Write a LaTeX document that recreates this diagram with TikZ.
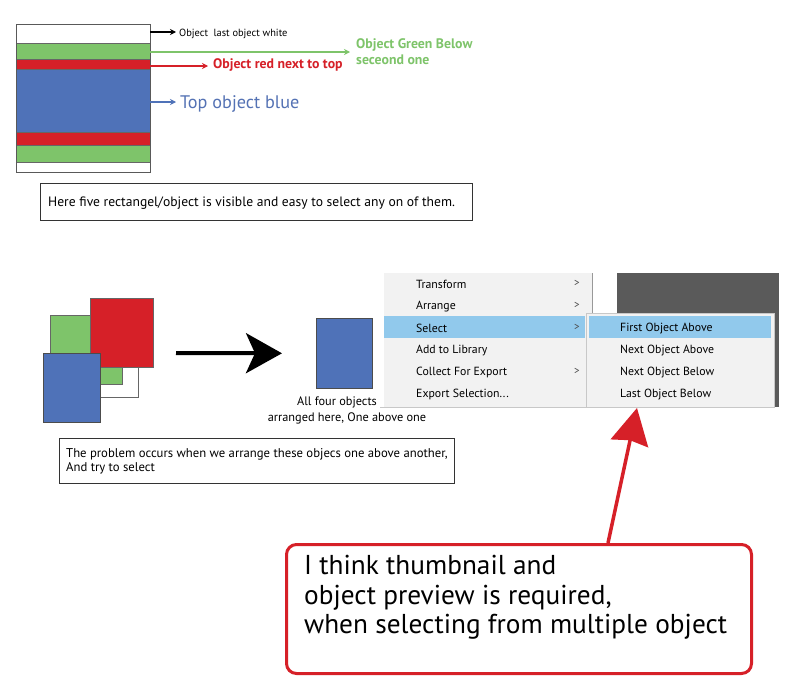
\documentclass[tikz,border=0pt]{standalone}
\usepackage{fontspec}
\setmainfont{PT Sans}
\usetikzlibrary{arrows.meta}
\definecolor{objgreen}{RGB}{126,196,106}
\definecolor{objred}{RGB}{214,32,40}
\definecolor{objblue}{RGB}{79,114,184}
\definecolor{txtblue}{RGB}{84,114,180}
\definecolor{menubg}{RGB}{242,242,242}
\definecolor{menuhl}{RGB}{145,201,236}
\definecolor{menuline}{RGB}{200,200,200}
\definecolor{darkpanel}{RGB}{90,90,90}
\newcommand{\fs}[1]{\fontsize{#1}{#1}\selectfont}
\tikzset{
  lbl/.style={anchor=west, inner sep=0pt, yshift=-1.5pt},
  menuitem/.style={anchor=west, inner sep=0pt, yshift=-1.5pt, font=\fs{11.8}},
  chev/.style={anchor=center, inner sep=0pt, font=\fs{11}, text=black!70},
  smallarrow/.style={-{Stealth[length=6pt,width=6pt]}, line width=1.3pt},
  textbox/.style={draw=black!80, line width=0.8pt, fill=white}
}
\begin{document}
\begin{tikzpicture}[x=1pt,y=-1pt]
\useasboundingbox (0,0) rectangle (789,688);
\fill[white] (0,0) rectangle (789,688);

% ---------- top stack ----------
\fill[white]    (16,24)  rectangle (150,43);
\fill[objgreen] (16,43)  rectangle (150,59);
\fill[objred]   (16,59)  rectangle (150,69);
\fill[objblue]  (16,69)  rectangle (150,132);
\fill[objred]   (16,132) rectangle (150,145);
\fill[objgreen] (16,145) rectangle (150,162);
\fill[white]    (16,162) rectangle (150,172);
\draw[black!60, line width=0.6pt] (16,43)--(150,43) (16,59)--(150,59) (16,69)--(150,69)
  (16,132)--(150,132) (16,145)--(150,145) (16,162)--(150,162);
\draw[black!65, line width=0.9pt] (16,24) rectangle (150,172);

\coordinate (sw) at (150,32);
\coordinate (sg) at (150,52);
\coordinate (sr) at (150,66);
\coordinate (sb) at (150,102);

\node[lbl, font=\fs{10.4}] (lw) at (179,32) {Object\ \ last object white};
\node[lbl, font=\bfseries\fs{13.8}, text=objgreen, align=left] (lg) at (356,50)
  {Object Green Below\\[2pt]seceond one};
\node[lbl, font=\bfseries\fs{13.8}, text=objred] (lr) at (213,64) {Object red next to top};
\node[lbl, font=\fs{18.2}, text=txtblue] (lb) at (180,102) {Top object blue};

\draw[smallarrow, black] (sw) -- (176,32);
\draw[smallarrow, objgreen, line width=1.1pt] (sg) -- (350,52);
\draw[smallarrow, objred] (sr) -- (208,66);
\draw[smallarrow, objblue, line width=2pt] (sb) -- (176,102);

\node[textbox, anchor=north west, minimum width=432pt, minimum height=37pt, inner sep=0pt] (tb1) at (40,183) {};
\node[lbl, font=\fs{13.6}] at (48,202) {Here five rectangel/object is visible and easy to select any on of them.};

% ---------- overlapping squares ----------
\draw[black!60, fill=white, line width=0.8pt] (70,330) rectangle (138,397);
\draw[black!60, fill=objgreen, line width=0.6pt] (50,315) rectangle (122,384);
\draw[black!60, fill=objred, line width=0.6pt] (90,298) rectangle (153,367);
\draw[black!70, fill=objblue, line width=0.6pt] (43,353) rectangle (100,422);
\coordinate (pile) at (176,353);

\node[draw=black!70, fill=objblue, line width=0.6pt, minimum width=56pt, minimum height=70pt, inner sep=0pt, anchor=north west] (single) at (316,318) {};
\draw[line width=4pt, -{Stealth[length=36pt,width=40pt,inset=9pt]}] (pile) -- (single.west -| 282,0);

\node[anchor=center, font=\fs{12.3}, inner sep=0pt] (cap1) at (337,402) {All four objects};
\node[anchor=center, font=\fs{12.3}, inner sep=0pt] (cap2) at (347,418) {arranged here, One above one};

\node[textbox, anchor=north west, minimum width=395pt, minimum height=45pt, inner sep=0pt] (tb2) at (59,438) {};
\node[lbl, font=\fontsize{12.7}{14.5}\selectfont, align=left] at (66,460) {The problem occurs when we arrange these objecs one above another,\\And try to select};

% ---------- context menu ----------
\fill[darkpanel] (617,273) rectangle (779,407);
\fill[menubg] (384,273) rectangle (592,407);
\draw[menuline, line width=0.6pt] (380,407) -- (592,407);
\draw[black!40, line width=1pt] (592,273) -- (592,315);
\fill[menuhl] (384,316) rectangle (585,338);
\node[menuitem] (mTransform) at (416,283) {Transform};
\node[menuitem] (mArrange) at (416,305) {Arrange};
\node[menuitem] (mSelect) at (416,327) {Select};
\node[menuitem] (mAdd) at (416,349) {Add to Library};
\node[menuitem] (mCollect) at (416,371) {Collect For Export};
\node[menuitem] (mExport) at (416,393) {Export Selection...};
\node[chev] at (577,283) {>};
\node[chev] at (577,305) {>};
\node[chev] at (577,327) {>};
\node[chev] at (577,371) {>};

\draw[menuline, fill=menubg, line width=0.8pt] (586,313) rectangle (774,407);
\fill[menuhl] (589,316) rectangle (771,338);
\node[menuitem] (sFirst) at (620,327) {First Object Above};
\node[menuitem] (sNextA) at (620,349) {Next Object Above};
\node[menuitem] (sNextB) at (620,371) {Next Object Below};
\node[menuitem] (sLast) at (620,393) {Last Object Below};
\coordinate (menutip) at (637,408);

% ---------- callout ----------
\node[draw=objred, line width=3pt, rounded corners=10pt, minimum width=465pt, minimum height=129pt, anchor=north west, inner sep=0pt] (callout) at (285,543) {};
\node[anchor=west, inner sep=0pt, font=\fontsize{27.3}{29.5}\selectfont, align=left] at (304,597.5) {I think thumbnail and\\object preview is required,\\when selecting from multiple object};
\draw[objred, line width=3.5pt, -{Stealth[length=36pt,width=38pt,inset=3pt]}] (callout.north -| 608,0) -- (menutip);
\end{tikzpicture}
\end{document}
